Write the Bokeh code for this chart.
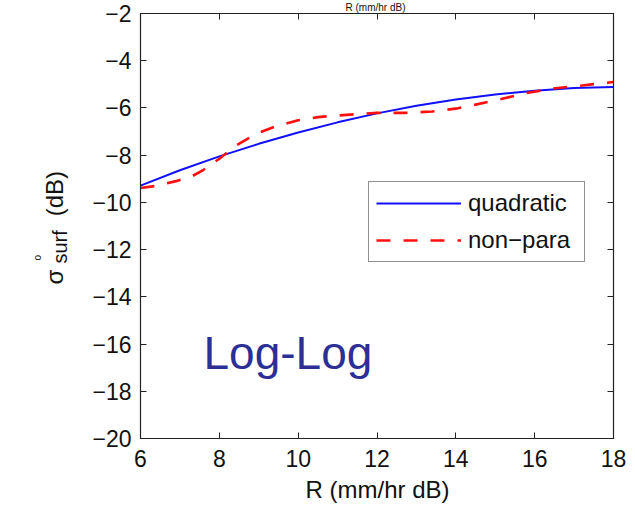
from bokeh.plotting import figure
from bokeh.models import (Range1d, FixedTicker, LinearAxis, Label, Legend,
                          LegendItem, CustomJSTickFormatter)
from bokeh.embed import file_html
from bokeh.resources import INLINE
import math

# ---- data ----
quad_x = [6, 7, 8, 9, 10, 11, 12, 13, 14, 15, 16, 17, 18]
quad_y = [-9.29, -8.64, -8.05, -7.52, -7.04, -6.61, -6.23, -5.91, -5.64,
          -5.43, -5.27, -5.16, -5.11]

nonpara_x = [6.0, 6.4, 6.9, 7.3, 7.6, 8.0, 8.4, 8.9, 9.4, 10.0, 10.5, 11.0,
             11.5, 12.0, 12.7, 13.4, 14.0, 14.5, 15.0, 15.7, 16.4, 17.2, 18.0]
nonpara_y = [-9.39, -9.30, -9.10, -8.90, -8.62, -8.15, -7.62, -7.12, -6.80,
             -6.52, -6.39, -6.32, -6.26, -6.21, -6.21, -6.15, -6.03, -5.86,
             -5.68, -5.40, -5.19, -5.05, -4.90]

x_ticks = [6, 8, 10, 12, 14, 16, 18]
x_tick_labels = ["6", "8", "10", "12", "14", "16", "18"]
y_ticks = [-20, -18, -16, -14, -12, -10, -8, -6, -4, -2]
y_tick_labels = ["\u221220", "\u221218", "\u221216", "\u221214", "\u221212",
                 "\u221210", "\u22128", "\u22126", "\u22124", "\u22122"]

series_names = ["quadratic", "non\u2212para"]
x_label = "R (mm/hr dB)"
y_label_main = "\u03c3" + "\u00a0" * 8 + "(dB)"
y_label_sup = "o"
y_label_sub = "surf"
annotation = "Log-Log"

# ---- layout ----
W, H = 635, 505
FL, FR, FT, FB = 140, 613, 13, 438
XMIN, XMAX, YMIN, YMAX = 6, 18, -20, -2
FONT = "Liberation Sans"
BASE_SHIFT = 0.35   # observed offset of Bokeh's alphabetic anchor (in em)


def px_x(px):
    return XMIN + (px - FL) * (XMAX - XMIN) / (FR - FL)


def px_y(py):
    return YMAX - (py - FT) * (YMAX - YMIN) / (FB - FT)


p = figure(width=W, height=H, output_backend="svg", toolbar_location=None,
           x_range=Range1d(XMIN, XMAX), y_range=Range1d(YMIN, YMAX),
           min_border_left=FL, min_border_right=W - FR,
           min_border_top=FT, min_border_bottom=H - FB,
           background_fill_color="white", border_fill_color="white")
p.grid.visible = False
p.outline_line_color = "#222222"
p.outline_line_width = 1.2

for ax in (p.xaxis[0], p.yaxis[0]):
    ax.major_tick_in = 6
    ax.major_tick_out = 0
    ax.minor_tick_line_color = None
    ax.axis_line_color = "#222222"
    ax.major_tick_line_color = "#222222"
    ax.major_label_text_font = FONT
    ax.major_label_text_font_size = "23px"
    ax.major_label_text_color = "#111111"

p.xaxis[0].ticker = FixedTicker(ticks=x_ticks)
p.xaxis[0].major_label_overrides = dict(zip(x_ticks, x_tick_labels))
p.xaxis[0].major_label_standoff = 11
p.yaxis[0].ticker = FixedTicker(ticks=y_ticks)
p.yaxis[0].major_label_overrides = dict(zip(y_ticks, y_tick_labels))
p.yaxis[0].major_label_standoff = 9

# mirrored ticks on top and right (no labels)
for loc, ticks in (("above", x_ticks), ("right", y_ticks)):
    ax = LinearAxis(ticker=FixedTicker(ticks=ticks),
                    formatter=CustomJSTickFormatter(code="return ''"),
                    major_tick_in=6, major_tick_out=0,
                    minor_tick_line_color=None,
                    axis_line_color="#222222",
                    major_tick_line_color="#222222",
                    major_label_standoff=0,
                    major_label_text_font_size="0px")
    p.add_layout(ax, loc)

r1 = p.line(quad_x, quad_y, line_color="#1010FF", line_width=2)
r2 = p.line(nonpara_x, nonpara_y, line_color="#FF1010", line_width=2.6,
            line_dash="14 13")

legend = Legend(items=[LegendItem(label=series_names[0], renderers=[r1]),
                       LegendItem(label=series_names[1], renderers=[r2])],
                location=(228, 176), orientation="vertical",
                label_text_font=FONT, label_text_font_size="24px",
                label_text_color="#111111",
                glyph_width=85, glyph_height=24, label_height=24,
                label_width=109,
                label_standoff=7, spacing=9, padding=7, margin=0,
                border_line_color="#222222", border_line_width=1.2,
                background_fill_color="white", background_fill_alpha=1)
p.add_layout(legend)


def text_label(text, px, baseline, size, panel=None, angle=0.0,
               align="left", color="#111111"):
    """px/baseline: wanted page position of the text start and baseline."""
    shift = BASE_SHIFT * size
    if angle:
        ax_, ay_ = px_x(baseline - shift), px_y(px)
    else:
        ax_, ay_ = px_x(px), px_y(baseline - shift)
    lab = Label(x=ax_, y=ay_, text=text, angle=angle,
                text_align=align, text_baseline="alphabetic",
                text_font=FONT, text_font_size=f"{size}px",
                text_color=color)
    if panel:
        p.add_layout(lab, panel)
    else:
        p.add_layout(lab)


# x-axis label
text_label(x_label, 377, 497, 24, "below", align="center")
# x label of the chart above (only its foot shows in the reference)
text_label(x_label, 375, 10, 10, "above", align="center")

# y-axis label: sigma ... (dB), degree superscript, "surf" subscript
rot = math.pi / 2
text_label(y_label_main, 284, 62, 24, "left", angle=rot)
text_label(y_label_sup, 260, 40, 10, "left", angle=rot)
text_label(y_label_sub, 263, 66, 20, "left", angle=rot)

# "Log-Log" annotation
text_label(annotation, 203, 369, 46, color="#2B2F96")

open("out.html", "w").write(file_html(p, INLINE))
